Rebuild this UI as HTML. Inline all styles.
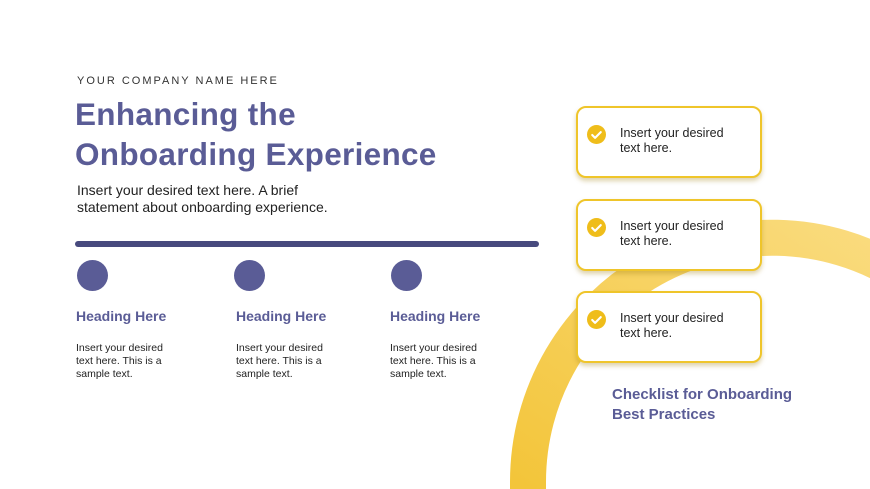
<!DOCTYPE html>
<html style="margin:0;width:870px;height:489px;overflow:hidden"><head><style>
body{margin:0;width:870px;height:489px;overflow:hidden;background:#fff;font-family:"Liberation Sans",sans-serif;position:relative}
.a{position:absolute}
svg{display:block;overflow:hidden}
.card{position:absolute;left:576px;width:186px;height:72px;border:2px solid #efc52a;border-radius:10px;background:#fff;box-shadow:0 3px 5px rgba(160,130,20,.35);box-sizing:border-box}
.card .ck{position:absolute;left:9px;top:17px;width:19px;height:19px}
.card .t{position:absolute;left:42px;top:18px;font-size:12.5px;line-height:15px;color:#222}
.dot{position:absolute;top:260px;width:31px;height:31px;border-radius:50%;background:#5a5c96}
.h{position:absolute;top:308px;font-size:14px;font-weight:bold;color:#5a5c96}
.s{position:absolute;top:342px;font-size:10.5px;line-height:13px;color:#222}
</style></head><body>
<svg class="a" style="left:0;top:0" width="870" height="489">
<defs><linearGradient id="g" x1="0" y1="1" x2="1" y2="0"><stop offset="0" stop-color="#f3c53a"/><stop offset="1" stop-color="#fadc80"/></linearGradient></defs>
<path d="M528 489 L528 482 A244 244 0 0 1 900 274" fill="none" stroke="url(#g)" stroke-width="36"/>
<line x1="78" y1="244" x2="536" y2="244" stroke="#474a7e" stroke-width="6" stroke-linecap="round"/>
</svg>
<div class="a" style="left:77px;top:75px;font-size:11px;letter-spacing:2px;color:#333">YOUR COMPANY NAME HERE</div>
<div class="a" style="left:75px;top:94px;font-size:31.5px;line-height:40px;font-weight:bold;color:#5a5c96;letter-spacing:0.3px">Enhancing the<br>Onboarding Experience</div>
<div class="a" style="left:77px;top:182px;font-size:14px;line-height:17px;color:#222">Insert your desired text here. A brief<br>statement about onboarding experience.</div>
<div class="dot" style="left:77px"></div><div class="dot" style="left:234px"></div><div class="dot" style="left:391px"></div>
<div class="h" style="left:76px">Heading Here</div><div class="h" style="left:236px">Heading Here</div><div class="h" style="left:390px">Heading Here</div>
<div class="s" style="left:76px">Insert your desired<br>text here. This is a<br>sample text.</div>
<div class="s" style="left:236px">Insert your desired<br>text here. This is a<br>sample text.</div>
<div class="s" style="left:390px">Insert your desired<br>text here. This is a<br>sample text.</div>
<div class="card" style="top:106px"><svg class="ck" viewBox="0 0 20 20"><circle cx="10" cy="10" r="10" fill="#efbd1a"/><path d="M5.5 10.5l3 3 6-6" fill="none" stroke="#fff" stroke-width="2.2" stroke-linecap="round" stroke-linejoin="round"/></svg><div class="t">Insert your desired<br>text here.</div></div>
<div class="card" style="top:199px"><svg class="ck" viewBox="0 0 20 20"><circle cx="10" cy="10" r="10" fill="#efbd1a"/><path d="M5.5 10.5l3 3 6-6" fill="none" stroke="#fff" stroke-width="2.2" stroke-linecap="round" stroke-linejoin="round"/></svg><div class="t">Insert your desired<br>text here.</div></div>
<div class="card" style="top:291px"><svg class="ck" viewBox="0 0 20 20"><circle cx="10" cy="10" r="10" fill="#efbd1a"/><path d="M5.5 10.5l3 3 6-6" fill="none" stroke="#fff" stroke-width="2.2" stroke-linecap="round" stroke-linejoin="round"/></svg><div class="t">Insert your desired<br>text here.</div></div>
<div class="a" style="left:612px;top:385px;font-size:15px;line-height:20px;font-weight:bold;color:#5a5c96">Checklist for Onboarding<br>Best Practices</div>
</body></html>
